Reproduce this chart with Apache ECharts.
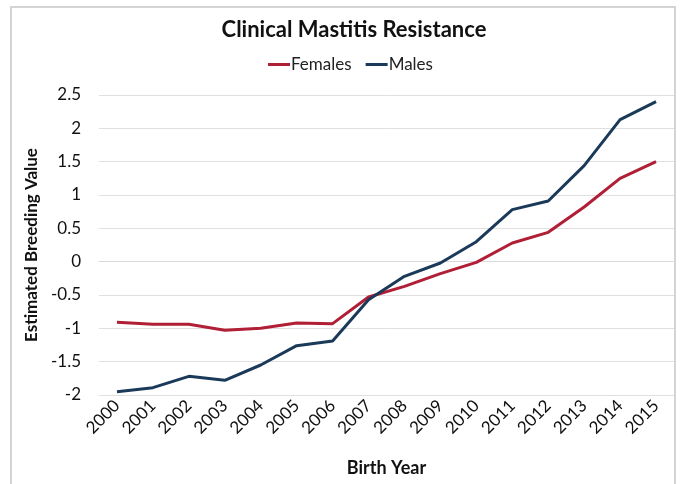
<!DOCTYPE html>
<html>
<head>
<meta charset="utf-8">
<script src="https://cdn.jsdelivr.net/npm/echarts@6/dist/echarts.min.js"></script>
<style>
  html, body { margin: 0; padding: 0; background: #fff; }
  #frame { position: absolute; left: 10px; top: 6px; width: 666px; height: 490px;
    border: 2px solid #d4d4d4; box-sizing: border-box; }
  #chart { position: absolute; left: 0; top: 0; width: 680px; height: 484px; }
</style>
</head>
<body>
<div id="frame"></div>
<div id="chart"></div>
<script>
const years = ["2000", "2001", "2002", "2003", "2004", "2005", "2006", "2007",
  "2008", "2009", "2010", "2011", "2012", "2013", "2014", "2015"];
const females = [-0.91, -0.94, -0.94, -1.03, -1.0, -0.92, -0.93, -0.53,
  -0.37, -0.18, -0.01, 0.28, 0.44, 0.82, 1.25, 1.5];
const males = [-1.95, -1.89, -1.72, -1.78, -1.55, -1.26, -1.19, -0.57,
  -0.22, -0.02, 0.3, 0.78, 0.91, 1.44, 2.13, 2.4];

const font = "Lato";
const myChart = echarts.init(document.getElementById("chart"));

const option = {
  animation: false,
  title: {
    text: "Clinical Mastitis Resistance",
    left: 349,
    textAlign: "center",
    top: 14,
    textStyle: { fontFamily: font, fontSize: 22, fontWeight: "bold", color: "#111" },
  },
  legend: {
    top: 51,
    left: 263,
    icon: "rect",
    itemWidth: 22,
    itemHeight: 3,
    itemGap: 14,
    textStyle: { fontFamily: font, fontSize: 17, color: "#222", padding: [0, 0, 0, -4] },
    data: ["Females", "Males"],
  },
  grid: { left: 99, right: 6, top: 95, bottom: 89 },
  xAxis: {
    type: "category",
    data: years,
    name: "Birth Year",
    nameLocation: "middle",
    nameGap: 64,
    nameTextStyle: { fontFamily: font, fontSize: 18, fontWeight: "bold", color: "#111" },
    axisLine: { lineStyle: { color: "#d9d9d9" } },
    axisTick: { show: false },
    axisLabel: { rotate: 45, fontFamily: font, fontSize: 17, color: "#111", margin: 8 },
  },
  yAxis: {
    type: "value",
    min: -2,
    max: 2.5,
    interval: 0.5,
    name: "Estimated Breeding Value",
    nameLocation: "middle",
    nameGap: 58,
    nameTextStyle: { fontFamily: font, fontSize: 17, fontWeight: "bold", color: "#111" },
    axisLine: { show: false },
    axisTick: { show: false },
    axisLabel: { fontFamily: font, fontSize: 17, color: "#111", margin: 18 },
    splitLine: { lineStyle: { color: "#e0e0e0" } },
  },
  series: [
    {
      name: "Females",
      type: "line",
      data: females,
      symbol: "none",
      lineStyle: { width: 3, color: "#B01F35" },
      itemStyle: { color: "#B01F35" },
    },
    {
      name: "Males",
      type: "line",
      data: males,
      symbol: "none",
      lineStyle: { width: 3, color: "#1B3A5A" },
      itemStyle: { color: "#1B3A5A" },
    },
  ],
};

myChart.setOption(option);
</script>
</body>
</html>
